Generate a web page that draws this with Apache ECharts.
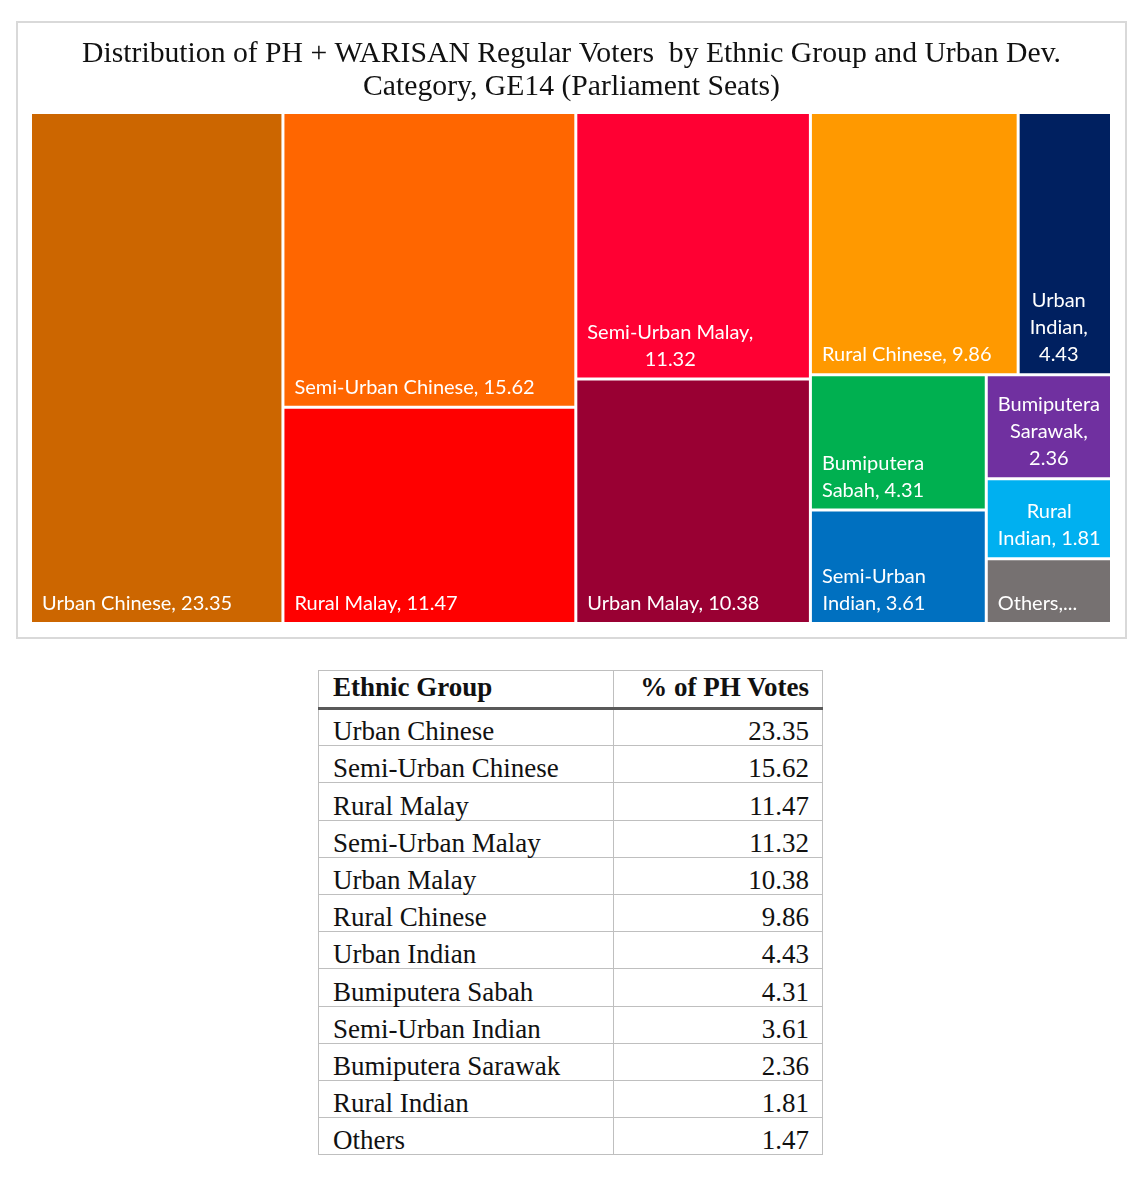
<!DOCTYPE html>
<html>
<head>
<meta charset="utf-8">
<title>PH + WARISAN voters treemap</title>
<script src="https://cdn.jsdelivr.net/npm/echarts@6/dist/echarts.min.js"></script>
<style>
    body { margin: 0; background: #fff; }
    #chart { position: absolute; left: 0; top: 0; width: 1143px; height: 650px; }
    table.votes {
        position: absolute; left: 318px; top: 670px; width: 505px;
        border-collapse: collapse; table-layout: fixed;
        font-family: 'Liberation Serif', serif; font-size: 27px; color: #111;
    }
    table.votes th, table.votes td {
        border: 1px solid #bfbfbf; padding: 0 13px 0 14px;
        vertical-align: bottom; line-height: 1; white-space: nowrap;
    }
    table.votes tbody tr { height: 37.2px; }
    table.votes thead tr { height: 38px; }
    table.votes th { text-align: left; font-weight: bold; border-bottom: 3px solid #595959; padding-bottom: 6px; }
    table.votes .num { text-align: right; }
    table.votes col.c1 { width: 295px; }
</style>
</head>
<body>
<div id="chart"></div>
<table class="votes" id="votes">
    <colgroup><col class="c1"><col></colgroup>
    <thead><tr><th>Ethnic Group</th><th class="num">% of PH Votes</th></tr></thead>
    <tbody></tbody>
</table>
<script>
    const categories = ['Urban Chinese', 'Semi-Urban Chinese', 'Rural Malay', 'Semi-Urban Malay', 'Urban Malay',
        'Rural Chinese', 'Urban Indian', 'Bumiputera Sabah', 'Semi-Urban Indian', 'Bumiputera Sarawak',
        'Rural Indian', 'Others'];
    const values = [23.35, 15.62, 11.47, 11.32, 10.38, 9.86, 4.43, 4.31, 3.61, 2.36, 1.81, 1.47];
    const colors = ['#CC6600', '#FF6600', '#FF0000', '#FF0033', '#990033', '#FF9900',
        '#002060', '#00B050', '#0070C0', '#7030A0', '#00B0F0', '#767171'];

    // how the tiles are nested (indexes into categories), so squarify gives the excel layout
    const tileGroups = [0, [1, 2], [3, 4], [[5, 6], [[7, 8], [9, 10, 11]]]];
    // words per line for labels that wrap inside their tile
    const labelWrap = {3: [2, 1], 6: [1, 1, 1], 7: [1, 2], 8: [1, 2], 9: [1, 1, 1], 10: [1, 2]};
    const cutLabels = [11];

    const labelFont = '20px Lato';
    const labelPad = 10;
    const measure = document.createElement('canvas').getContext('2d');
    measure.font = labelFont;

    function labelText(i) {
        const words = (categories[i] + ', ' + values[i].toFixed(2)).split(' ');
        if (cutLabels.indexOf(i) >= 0) return words[0] + '...';
        const counts = labelWrap[i];
        if (!counts) return words.join(' ');
        let k = 0;
        return counts.map(function (n) { return words.slice(k, k += n).join(' '); }).join('\n');
    }

    function buildNode(spec) {
        if (Array.isArray(spec)) {
            return {name: '', children: spec.map(buildNode)};
        }
        const item = {name: categories[spec], value: values[spec], itemStyle: {color: colors[spec]}};
        if (labelWrap[spec]) {
            // excel keeps the wrapped block at the left, but centres each line inside it
            const w = Math.max.apply(null, labelText(spec).split('\n').map(function (s) {
                return measure.measureText(s).width;
            }));
            item.label = {position: [labelPad + w / 2, '100%'], align: 'center', verticalAlign: 'bottom', padding: [0, 0, 5, 0]};
        }
        return item;
    }

    const chart = echarts.init(document.getElementById('chart'));
    chart.setOption({
        animation: false,
        title: {
            text: 'Distribution of PH + WARISAN Regular Voters  by Ethnic Group and Urban Dev.\nCategory, GE14 (Parliament Seats)',
            left: 'center',
            top: 38,
            padding: 0,
            textStyle: {
                fontFamily: 'Liberation Serif',
                fontSize: 29.7,
                fontWeight: 'normal',
                color: '#111',
                lineHeight: 33
            }
        },
        graphic: [{
            type: 'rect',
            silent: true,
            shape: {x: 17, y: 22, width: 1109, height: 616},
            style: {fill: 'none', stroke: '#d9d9d9', lineWidth: 2}
        }],
        series: [{
            type: 'treemap',
            left: 32,
            top: 114,
            width: 1078,
            height: 508,
            squareRatio: 1,
            sort: false,
            roam: false,
            nodeClick: false,
            silent: true,
            breadcrumb: {show: false},
            itemStyle: {borderWidth: 0, gapWidth: 3, borderColor: '#fff'},
            upperLabel: {show: false},
            label: {
                show: true,
                position: 'insideBottomLeft',
                padding: [0, 0, 5, labelPad],
                fontFamily: 'Lato',
                fontSize: 20,
                lineHeight: 27,
                color: '#fff',
                formatter: function (p) {
                    return labelText(categories.indexOf(p.name));
                }
            },
            data: tileGroups.map(buildNode)
        }]
    });

    const tbody = document.querySelector('#votes tbody');
    categories.forEach(function (name, i) {
        const tr = document.createElement('tr');
        tr.innerHTML = '<td>' + name + '</td><td class="num">' + values[i].toFixed(2) + '</td>';
        tbody.appendChild(tr);
    });
</script>
</body>
</html>
